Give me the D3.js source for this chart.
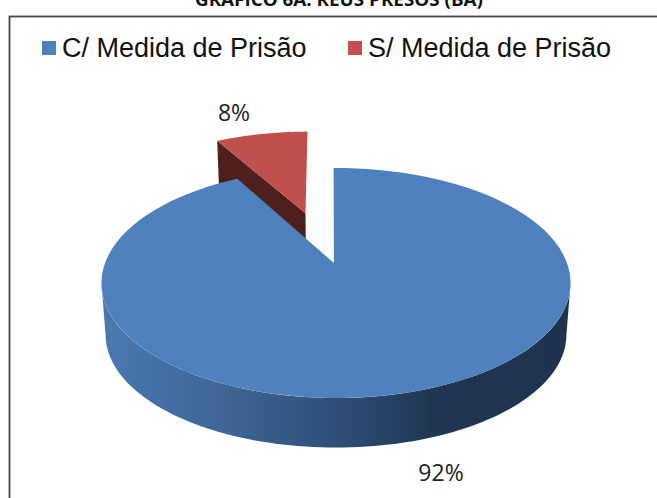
<!DOCTYPE html>
<html>
<head>
<meta charset="utf-8">
<script src="https://cdn.jsdelivr.net/npm/d3@7"></script>
<style>
  html, body { margin: 0; padding: 0; background: #fff; overflow: hidden; }
</style>
</head>
<body>
<svg id="chart" width="657" height="498"></svg>
<script>
const title = "GRÁFICO 6A: RÉUS PRESOS (BA)";
const categories = ["C/ Medida de Prisão", "S/ Medida de Prisão"];
const values = [92, 8];
const valueLabels = ["92%", "8%"];
const colors = ["#4f81bd", "#c0504d"];

const svg = d3.select("#chart");
const defs = svg.append("defs");

// fake 3d: the pie lies flat and gets a perspective projection
const cx = 336, cy = 263;
const rx = 231, ry = 111.5;
const persp = 0.174;
const depth = 52;
const explode = 0.5;
const rotation = -0.012;
const blueOff = [-0.009, 0];

const project = (angle, r, off, h) => {
  const x = r * Math.sin(angle) + off[0];
  const z = r * Math.cos(angle) + off[1];
  const s = (1 + persp * z) * (1 + 0.018 * h);
  return [cx + rx * x / s, cy - ry * z / s + depth * h];
};

const pie = d3.pie().sort(null).value(d => d)
  .startAngle(rotation).endAngle(2 * Math.PI + rotation);
const slices = pie(values);
const arcSteps = d3.range(0, 1.0001, 0.01);
const path = d3.line();

const rim = (a0, a1, off, h) =>
  arcSteps.map(t => project(d3.interpolateNumber(a0, a1)(t), 1, off, h));

// frame, runs off the right and bottom of the picture
svg.append("rect")
  .attr("x", 9.5).attr("y", 16.5)
  .attr("width", 700).attr("height", 520)
  .attr("fill", "#fff")
  .attr("stroke", "#444")
  .attr("stroke-width", 1.8);

// title, clipped by the top of the picture
svg.append("text")
  .attr("x", 339).attr("y", 5.5)
  .attr("text-anchor", "middle")
  .attr("font-family", "'Open Sans', sans-serif")
  .attr("font-weight", 700)
  .attr("font-size", 17)
  .attr("textLength", 288)
  .attr("lengthAdjust", "spacingAndGlyphs")
  .attr("fill", "#111")
  .text(title);

// legend
const legendX = d3.scaleOrdinal().domain(categories).range([42, 348]);
const legend = svg.selectAll(".legendItem")
  .data(categories)
  .join("g")
  .attr("class", "legendItem")
  .attr("transform", d => `translate(${legendX(d)}, 41)`);
legend.append("rect")
  .attr("width", 14).attr("height", 14)
  .attr("fill", (d, i) => colors[i]);
legend.append("text")
  .attr("x", 20).attr("y", 16)
  .attr("font-family", "'Liberation Sans', Arial, sans-serif")
  .attr("font-size", 27)
  .attr("fill", "#111")
  .text(d => d);

// red slice first, it sits behind the blue one
const red = slices[1];
const mid = (red.startAngle + red.endAngle) / 2;
const redOff = [Math.sin(mid) * explode * 1.1, Math.cos(mid) * explode];
const apex = h => project(0, 0, redOff, h);

svg.append("path")
  .attr("d", path([
    project(red.startAngle, 1, redOff, 0), apex(0), apex(1),
    project(red.startAngle, 1, redOff, 1)
  ]) + "Z")
  .attr("fill", "#4f1f1d");

svg.append("path")
  .attr("d", path([apex(0), ...rim(red.startAngle, red.endAngle, redOff, 0)]) + "Z")
  .attr("fill", colors[1]);

// blue slice side with its dark gradient
const sideGrad = defs.append("linearGradient")
  .attr("id", "sideGrad")
  .attr("gradientUnits", "userSpaceOnUse")
  .attr("x1", cx - rx).attr("x2", cx + rx)
  .attr("y1", 0).attr("y2", 0);
sideGrad.selectAll("stop")
  .data([[0, "#4a78b0"], [0.25, "#3f6696"], [0.5, "#2f4f78"], [0.72, "#1f3551"], [1, "#1e334e"]])
  .join("stop")
  .attr("offset", d => d[0])
  .attr("stop-color", d => d[1]);

const blue = slices[0];
// start the side at the widest points of the top face
const sideA0 = Math.acos(-persp), sideA1 = 2 * Math.PI - sideA0;
svg.append("path")
  .attr("d", path([...rim(sideA0, sideA1, [0, 0], 0), ...rim(sideA1, sideA0, [0, 0], 1)]) + "Z")
  .attr("fill", "url(#sideGrad)");

svg.append("path")
  .attr("d", path([project(0, 0, blueOff, 0), ...rim(blue.startAngle, blue.endAngle, [0, 0], 0)]) + "Z")
  .attr("fill", colors[0]);

// value labels
const labelPos = [[441, 481], [234, 121]];
svg.selectAll(".valueLabel")
  .data(valueLabels)
  .join("text")
  .attr("class", "valueLabel")
  .attr("x", (d, i) => labelPos[i][0])
  .attr("y", (d, i) => labelPos[i][1])
  .attr("text-anchor", "middle")
  .attr("font-family", "'Open Sans', sans-serif")
  .attr("font-size", 23)
  .attr("fill", "#222")
  .text(d => d);
</script>
</body>
</html>
